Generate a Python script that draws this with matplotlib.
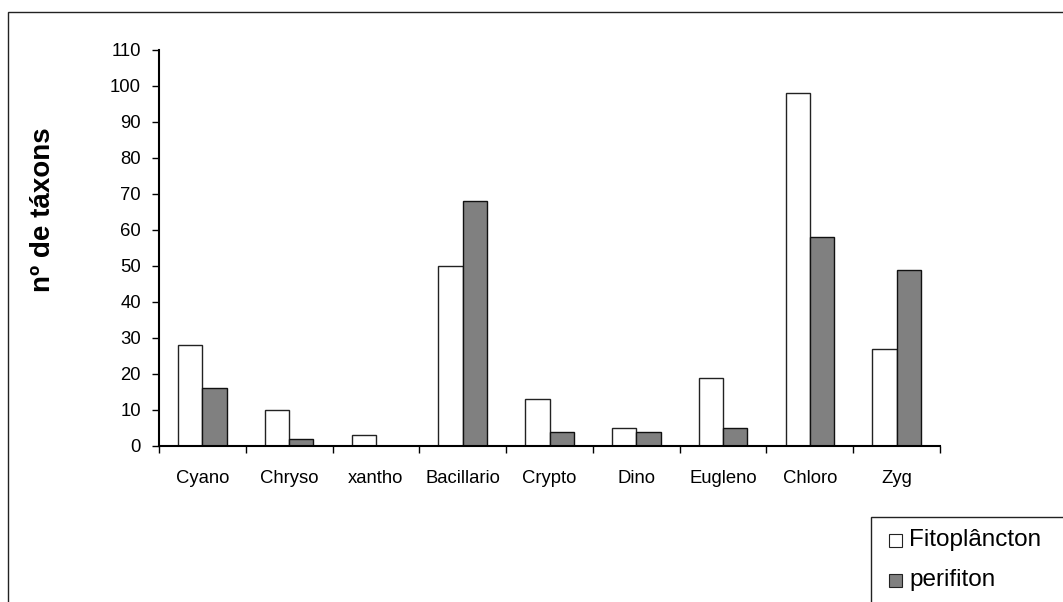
import matplotlib
matplotlib.use("Agg")
import matplotlib.pyplot as plt
from matplotlib.patches import Rectangle
import numpy as np

plt.rcParams['font.family'] = ['Liberation Sans', 'DejaVu Sans']

categories = ["Cyano", "Chryso", "xantho", "Bacillario", "Crypto", "Dino", "Eugleno", "Chloro", "Zyg"]
fitoplancton = [28, 10, 3, 50, 13, 5, 19, 98, 27]
perifiton = [16, 2, 0, 68, 4, 4, 5, 58, 49]
series_names = ["Fitoplâncton", "perifiton"]
y_ticks = list(range(0, 111, 10))

W, H = 1063, 602
fig = plt.figure(figsize=(W / 100, H / 100), dpi=100)

def fx(px):
    return px / W

def fy(py):
    return 1 - py / H

ax = fig.add_axes([fx(159), fy(446), fx(940) - fx(159), fy(50) - fy(446)])

x = np.arange(len(categories)) + 0.5
bw = 0.28
ax.bar(x - bw / 2, fitoplancton, bw, color="white", edgecolor="#222222", linewidth=1.0)
ax.bar(x + bw / 2, perifiton, bw, color="#808080", edgecolor="#111111", linewidth=1.0)

ax.set_xlim(0, len(categories))
ax.set_ylim(0, 110)
ax.set_yticks(y_ticks)
ax.set_yticklabels([str(t) for t in y_ticks], fontsize=13.3)
ax.tick_params(axis='y', direction='out', length=5, width=1, pad=8)

ax.set_xticks(np.arange(len(categories) + 1))
ax.set_xticklabels([])
ax.tick_params(axis='x', which='major', direction='out', length=5, width=1)
ax.set_xticks(x, minor=True)
ax.set_xticklabels(categories, minor=True, fontsize=13.3)
ax.tick_params(axis='x', which='minor', length=0, pad=17)

for s in ["top", "right"]:
    ax.spines[s].set_visible(False)
for s in ["left", "bottom"]:
    ax.spines[s].set_linewidth(1.5)
    ax.spines[s].set_color("black")

fig.text(fx(43), fy(210), "nº de táxons", rotation=90, fontsize=20, fontweight='bold',
         ha='center', va='center')

# outer frame (clipped at right and bottom)
fig.patches.append(Rectangle((fx(8), fy(640)), fx(1100) - fx(8), fy(12) - fy(640),
                             transform=fig.transFigure, fill=False, edgecolor="#222222",
                             linewidth=1.0, clip_on=False))

# legend box
fig.patches.append(Rectangle((fx(871), fy(640)), fx(1100) - fx(871), fy(517) - fy(640),
                             transform=fig.transFigure, fill=False, edgecolor="#222222",
                             linewidth=1.0, clip_on=False))
legend_colors = ["white", "#808080"]
legend_y = [540, 580]
for name, col, ly in zip(series_names, legend_colors, legend_y):
    fig.patches.append(Rectangle((fx(889), fy(ly + 6.5)), fx(902) - fx(889), fy(ly - 6.5) - fy(ly + 6.5),
                                 transform=fig.transFigure, facecolor=col, edgecolor="#222222",
                                 linewidth=0.8))
    fig.text(fx(909), fy(ly), name, fontsize=17.5, ha='left', va='center')

fig.savefig("out.png", dpi=100)
